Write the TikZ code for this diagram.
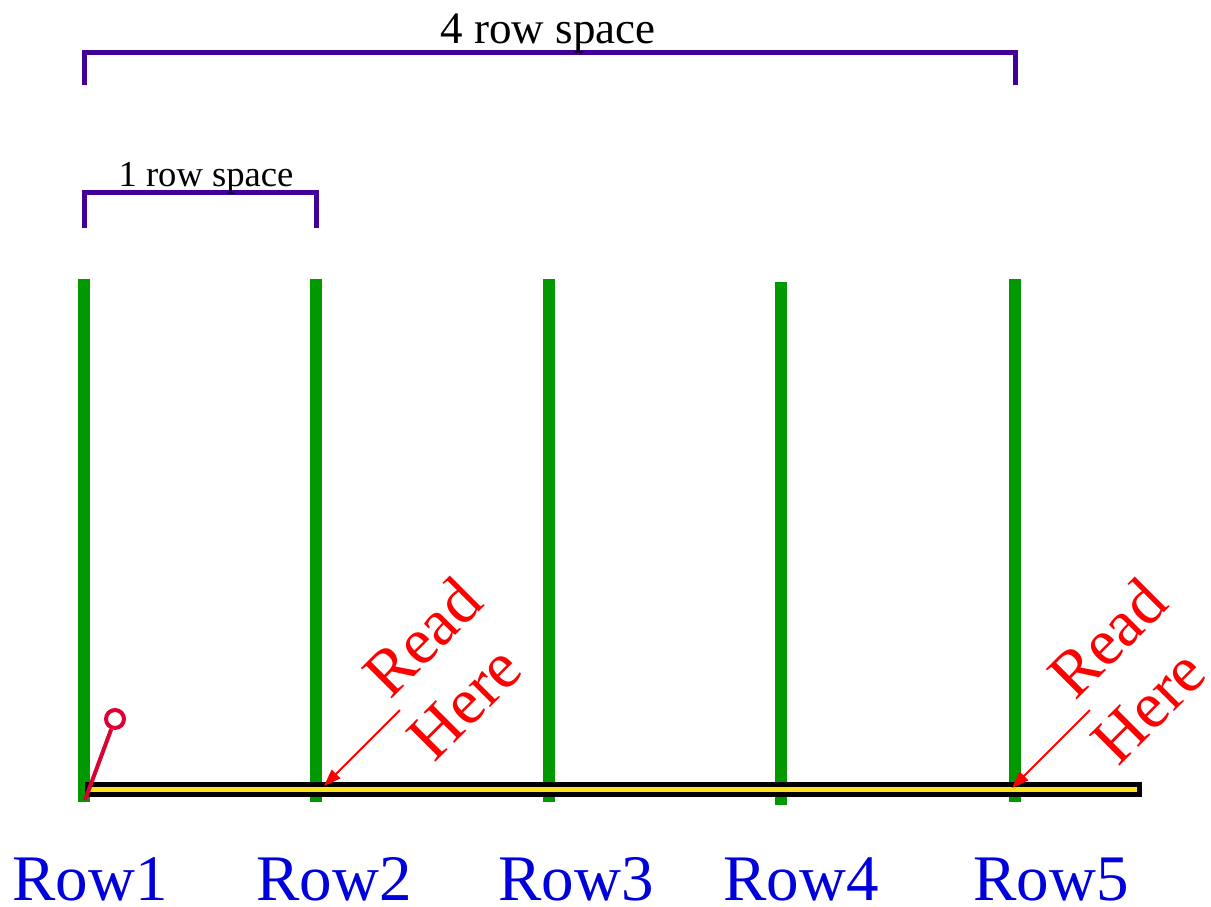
\documentclass[tikz,border=0pt]{standalone}
\usepackage{fontspec}
\setmainfont{Liberation Serif}
\usetikzlibrary{arrows.meta}
\definecolor{rowgreen}{HTML}{009900}
\definecolor{brk}{HTML}{400099}
\definecolor{rowblue}{HTML}{0000DD}
\definecolor{tapey}{HTML}{FFE11F}
\definecolor{pinred}{HTML}{DD0033}
\definecolor{readred}{HTML}{FF0000}
\tikzset{
  rowline/.style={rowgreen, line width=12pt},
  bracket/.style={brk, line width=5pt},
  rowlabel/.style={rowblue, anchor=base, font=\fontsize{65}{65}\selectfont, inner sep=0pt},
  readlabel/.style={readred, rotate=45, font=\fontsize{66}{66}\selectfont, inner sep=0pt},
  readarrow/.style={readred, line width=2pt, -{Triangle[length=17pt,width=12pt]}},
  spacelabel/.style={black, anchor=base, inner sep=0pt},
}
\begin{document}
\begin{tikzpicture}[x=1pt,y=-1pt]
\useasboundingbox (0,0) rectangle (1211,906);
% row lines
\coordinate (t1) at (84,279);  \coordinate (b1) at (84,802);
\coordinate (t2) at (316,279); \coordinate (b2) at (316,802);
\coordinate (t3) at (549,279); \coordinate (b3) at (549,802);
\coordinate (t4) at (781,282); \coordinate (b4) at (781,805);
\coordinate (t5) at (1015,279); \coordinate (b5) at (1015,802);
\foreach \i in {1,...,5} { \draw[rowline] (t\i) -- (b\i); }
% tape
\coordinate (tapeA) at (85,782);
\coordinate (tapeB) at (1142,797);
\fill[black] (tapeA) rectangle (tapeB);
\coordinate (yA) at (89,789.5);
\coordinate (yB) at (1137,789.5);
\draw[tapey, line width=5pt] (yA) -- (yB);
% pin
\coordinate (pinfoot) at (85,800);
\node[draw=pinred, line width=4pt, circle, minimum size=18pt, inner sep=0pt] (pinhead) at (115,719) {};
\draw[pinred, line width=4pt] (pinfoot) -- (pinhead);
% brackets
\coordinate (b4l) at (84,85);  \coordinate (b4lt) at (84,52);
\coordinate (b4rt) at (1015,52); \coordinate (b4r) at (1015,85);
\draw[bracket] (b4l) -- (b4lt) -- (b4rt) -- (b4r);
\coordinate (b1l) at (84,228);  \coordinate (b1lt) at (84,192);
\coordinate (b1rt) at (316,192); \coordinate (b1r) at (316,228);
\draw[bracket] (b1l) -- (b1lt) -- (b1rt) -- (b1r);
\node[spacelabel, font=\fontsize{45}{45}\selectfont] (four) at (548,43) {4 row space};
\node[spacelabel, font=\fontsize{36.6}{36.6}\selectfont] (one) at (206,186) {1 row space};
% row labels
\node[rowlabel] (r1) at (90,900) {Row1};
\node[rowlabel] (r2) at (334,900) {Row2};
\node[rowlabel] (r3) at (576,900) {Row3};
\node[rowlabel] (r4) at (801,900) {Row4};
\node[rowlabel] (r5) at (1051,900) {Row5};
% read here
\node[readlabel] (read1) at (422,637) {Read};
\node[readlabel] (here1) at (465,703) {Here};
\node[readlabel] (read2) at (1107,638) {Read};
\node[readlabel] (here2) at (1149,707) {Here};
\coordinate (a1s) at (400,710); \coordinate (a1e) at (324,786);
\coordinate (a2s) at (1090,710); \coordinate (a2e) at (1012,788);
\draw[readarrow] (a1s) -- (a1e);
\draw[readarrow] (a2s) -- (a2e);
\end{tikzpicture}
\end{document}
